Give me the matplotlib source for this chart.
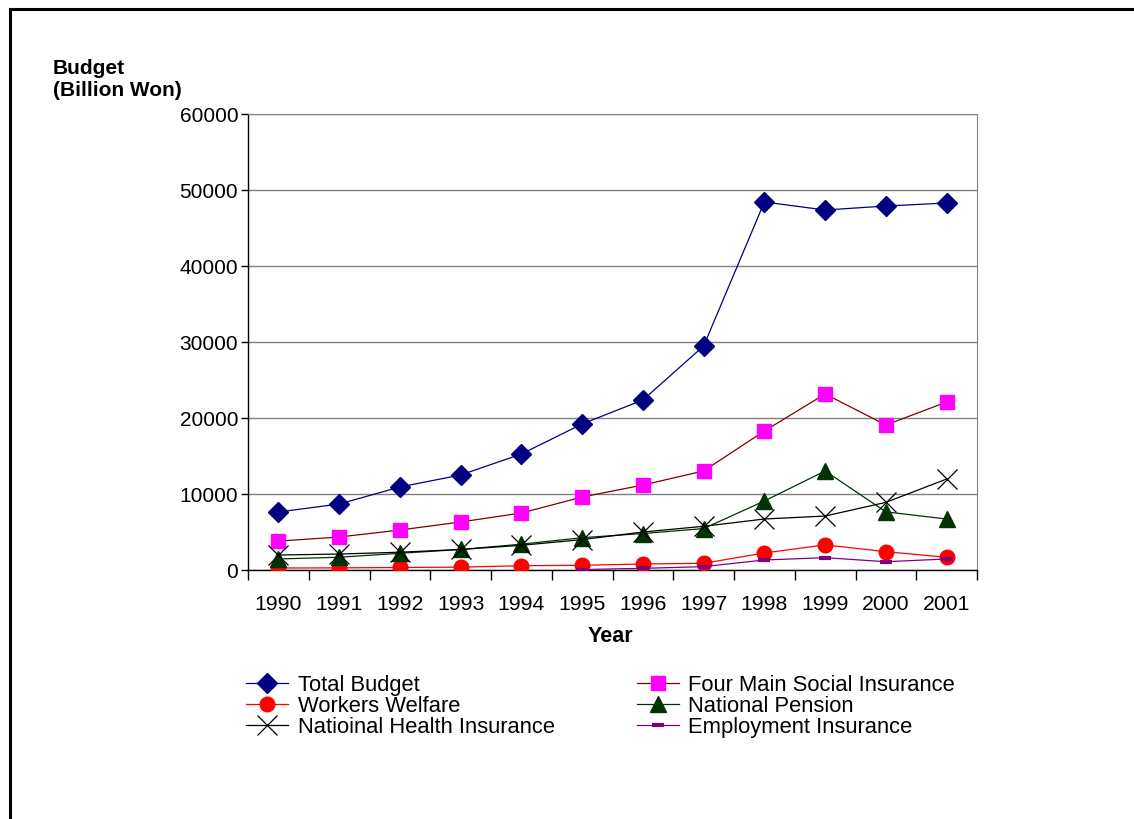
import matplotlib
matplotlib.use("Agg")
import matplotlib.pyplot as plt
from matplotlib.lines import Line2D
import numpy as np

plt.rcParams['font.family'] = ['Liberation Sans', 'DejaVu Sans']

years = ["1990", "1991", "1992", "1993", "1994", "1995", "1996", "1997", "1998", "1999", "2000", "2001"]
total_budget = [7630, 8680, 10920, 12500, 15260, 19210, 22370, 29470, 48420, 47370, 47890, 48290]
four_main = [3800, 4340, 5260, 6320, 7500, 9600, 11180, 13030, 18290, 23160, 19080, 22100]
workers_welfare = [260, 280, 330, 380, 560, 620, 790, 880, 2240, 3300, 2410, 1670]
national_pension = [1450, 1680, 2200, 2700, 3400, 4250, 4800, 5450, 9080, 13030, 7650, 6710]
health_insurance = [1970, 2100, 2340, 2700, 3250, 4000, 5000, 5750, 6710, 7100, 8900, 11970]
employment_years = ["1995", "1996", "1997", "1998", "1999", "2000", "2001"]
employment_insurance = [60, 220, 440, 1320, 1620, 1090, 1450]

W, H = 1134, 820
fig = plt.figure(figsize=(W / 100, H / 100), dpi=100)
ax = fig.add_axes([248 / W, 1 - 571 / H, 729 / W, 456 / H])

x = np.arange(len(years))
xe = np.array([years.index(y) for y in employment_years])

h_total, = ax.plot(x, total_budget, color='#000080', lw=0.9, marker='D', ms=10,
                   mfc='#000080', mec='#000080', label='Total Budget', zorder=5)
h_four, = ax.plot(x, four_main, color='#800000', lw=0.9, marker='s', ms=10.5,
                  mfc='#FF00FF', mec='#FF00FF', label='Four Main Social Insurance', zorder=5)
h_work, = ax.plot(x, workers_welfare, color='#FF0000', lw=0.9, marker='o', ms=10.5,
                  mfc='#FF0000', mec='#FF0000', label='Workers Welfare', zorder=5)
h_pen, = ax.plot(x, national_pension, color='#003300', lw=0.9, marker='^', ms=11.5,
                 mfc='#003300', mec='#003300', label='National Pension', zorder=5)
h_health, = ax.plot(x, health_insurance, color='#000000', lw=0.9, marker='x', ms=15,
                    mew=0.9, label='Natioinal Health Insurance', zorder=5)
h_emp, = ax.plot(xe, employment_insurance, color='#800080', lw=0.9, marker='_', ms=9,
                 mew=3, mec='#800080', label='Employment Insurance', zorder=5)

ax.set_xlim(-0.5, len(years) - 0.5)
ax.set_ylim(0, 60000)
ax.set_yticks(np.arange(0, 60001, 10000))
ax.tick_params(axis='y', direction='out', length=5, width=1, labelsize=15, pad=2)
ax.set_xticks(np.arange(-0.5, len(years), 1.0))
ax.set_xticklabels([])
ax.set_xticks(x, minor=True)
ax.set_xticklabels(years, minor=True)
ax.tick_params(axis='x', which='major', direction='out', length=7, width=1)
ax.tick_params(axis='x', which='minor', length=0, labelsize=15.3, pad=17)
ax.grid(axis='y', color='#808080', lw=1)
ax.set_axisbelow(True)
for s in ['top', 'right']:
    ax.spines[s].set_color('#808080')
for s in ['left', 'bottom']:
    ax.spines[s].set_color('#000000')
    ax.spines[s].set_linewidth(1)

fig.text(53 / W, 1 - 79.5 / H, "Budget\n(Billion Won)", fontsize=15, fontweight='bold',
         ha='left', va='center', linespacing=1.25)
fig.text(610 / W, 1 - 637 / H, "Year", fontsize=15.5, fontweight='bold', ha='center', va='center')

handles = [h_total, h_work, h_health, h_four, h_pen, h_emp]
leg = fig.legend(handles=handles, labels=[h.get_label() for h in handles], ncol=2,
                 loc='upper left', bbox_to_anchor=(246 / W, 1 - 675.5 / H), frameon=False,
                 fontsize=15.8, handlelength=1.9, handletextpad=0.45, columnspacing=3.75,
                 labelspacing=0.0, borderaxespad=0, borderpad=0)

fig.add_artist(Line2D([10 / W, 10 / W], [0, 1 - 10 / H], transform=fig.transFigure,
                      color='black', lw=2.2))
fig.add_artist(Line2D([10 / W, 1], [1 - 10 / H, 1 - 10 / H], transform=fig.transFigure,
                      color='black', lw=2.2))

fig.savefig("out.png", dpi=100)
